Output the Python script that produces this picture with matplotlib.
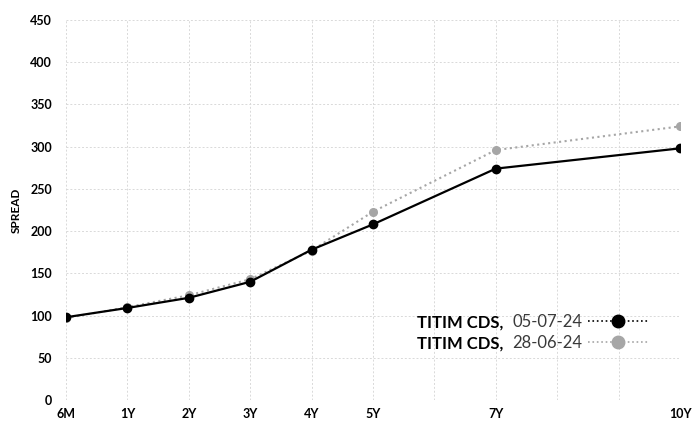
import matplotlib
matplotlib.use('Agg')
import matplotlib.pyplot as plt
from matplotlib.lines import Line2D

plt.rcParams['font.family'] = ['Lato', 'DejaVu Sans']

# tenors (positions on a year scale, 6M sits at 0)
tenor_pos = [0, 1, 2, 3, 4, 5, 7, 10]
tenor_labels = ['6M', '1Y', '2Y', '3Y', '4Y', '5Y', '7Y', '10Y']

spread_0507 = [98, 109, 121, 140, 178, 208, 274, 298]
spread_2806 = [97, 110, 124, 143, 177, 223, 296, 324]

name = 'TITIM CDS,'
dates = ['05-07-24', '28-06-24']

fig = plt.figure(figsize=(6.96, 4.23), dpi=100)
ax = fig.add_axes([66 / 696, 23 / 423, 614 / 696, 380 / 423])

grey = '#a6a6a6'
ax.plot(tenor_pos, spread_2806, color=grey, ls=':', lw=1.5, marker='o', ms=5.5, zorder=3)
ax.plot(tenor_pos, spread_0507, color='black', ls='-', lw=1.6, marker='o', ms=6, zorder=4)

ax.set_xlim(0, 10)
ax.set_ylim(0, 450)
ax.set_xticks(range(0, 11), minor=True)
ax.set_xticks(tenor_pos)
ax.set_xticklabels(tenor_labels)
ax.set_yticks(range(0, 451, 50))
grid_kw = dict(color='#d9d9d9', ls=(0, (2, 2)), lw=0.7)
ax.grid(True, which='both', axis='x', **grid_kw)
ax.grid(True, axis='y', **grid_kw)
ax.set_axisbelow(True)
ax.tick_params(which='both', length=0)
ax.tick_params(axis='x', pad=6)
ax.tick_params(axis='y', pad=10)
for lab in ax.get_xticklabels() + ax.get_yticklabels():
    lab.set_fontweight('bold')
    lab.set_fontsize(9)
for s in ax.spines.values():
    s.set_visible(False)
ax.set_ylabel('SPREAD', fontsize=8.5, fontweight='bold', labelpad=6)

handles = [
    Line2D([], [], color='black', ls=':', lw=1.2, marker='o', ms=9),
    Line2D([], [], color=grey, ls=':', lw=1.2, marker='o', ms=9),
]
leg = ax.legend(handles, dates, loc='center right', bbox_to_anchor=(0.948, 0.177),
                markerfirst=False, frameon=False, handlelength=3.6, handletextpad=0.35,
                labelspacing=0.3, borderpad=0, borderaxespad=0, numpoints=1,
                prop={'size': 12, 'weight': 'normal'})
for t in leg.get_texts():
    t.set_color('#3a3a3a')

# bold prefix to the left of each legend date
fig.canvas.draw()
r = fig.canvas.get_renderer()
inv = fig.transFigure.inverted()
for t in leg.get_texts():
    bb = t.get_window_extent(r)
    x0, y0 = inv.transform((bb.x0 - 9, (bb.y0 + bb.y1) / 2))
    fig.text(x0, y0, name, ha='right', va='center', fontsize=12, fontweight='bold')

fig.savefig('out.png', dpi=100)
